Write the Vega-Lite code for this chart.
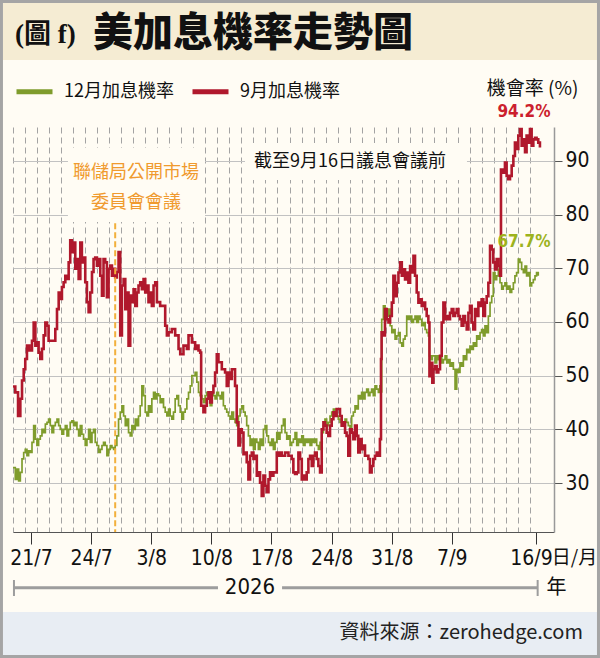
{
  "$schema": "https://vega.github.io/schema/vega-lite/v6.json",
  "width": 541,
  "height": 405,
  "autosize": {"type": "none"},
  "padding": {"left": 13, "top": 127, "right": 46, "bottom": 126},
  "background": "#fffcf4",
  "config": {"view": {"stroke": null}},
  "datasets": {
    "dec": [
      {"x":-1.5,"p":32.9},{"x":-1.31,"p":30.7},{"x":-1.17,"p":32.6},{"x":-1.03,"p":30.4},{"x":-0.89,"p":32.0},{"x":-0.75,"p":34.5},{"x":-0.61,"p":35.7},{"x":-0.48,"p":36.3},{"x":-0.34,"p":35.1},{"x":-0.2,"p":36.0},{"x":-0.06,"p":35.7},{"x":0.08,"p":37.6},{"x":0.22,"p":40.7},{"x":0.36,"p":38.2},{"x":0.49,"p":37.0},{"x":0.63,"p":38.2},{"x":0.77,"p":38.8},{"x":0.91,"p":40.0},{"x":1.05,"p":39.4},{"x":1.19,"p":41.0},{"x":1.33,"p":41.3},{"x":1.46,"p":41.9},{"x":1.6,"p":40.7},{"x":1.74,"p":39.4},{"x":1.88,"p":40.7},{"x":2.02,"p":41.3},{"x":2.16,"p":41.9},{"x":2.3,"p":40.7},{"x":2.43,"p":40.0},{"x":2.57,"p":39.1},{"x":2.71,"p":40.0},{"x":2.85,"p":40.7},{"x":2.99,"p":38.8},{"x":3.13,"p":40.0},{"x":3.26,"p":41.3},{"x":3.4,"p":41.6},{"x":3.54,"p":40.7},{"x":3.68,"p":41.3},{"x":3.82,"p":40.0},{"x":3.96,"p":38.8},{"x":4.1,"p":40.7},{"x":4.23,"p":39.1},{"x":4.37,"p":38.2},{"x":4.51,"p":37.0},{"x":4.65,"p":38.2},{"x":4.79,"p":40.0},{"x":4.93,"p":37.6},{"x":5.07,"p":39.4},{"x":5.2,"p":40.0},{"x":5.34,"p":37.6},{"x":5.48,"p":37.0},{"x":5.62,"p":35.7},{"x":5.76,"p":36.3},{"x":5.9,"p":37.0},{"x":6.03,"p":37.6},{"x":6.17,"p":37.0},{"x":6.31,"p":35.1},{"x":6.45,"p":36.3},{"x":6.59,"p":37.0},{"x":6.73,"p":36.6},{"x":6.87,"p":36.3},{"x":7.0,"p":37.0},{"x":7.14,"p":38.8},{"x":7.28,"p":41.9},{"x":7.42,"p":43.2},{"x":7.56,"p":44.4},{"x":7.7,"p":42.5},{"x":7.84,"p":40.7},{"x":7.97,"p":41.9},{"x":8.11,"p":39.4},{"x":8.25,"p":38.8},{"x":8.39,"p":40.7},{"x":8.53,"p":40.0},{"x":8.67,"p":41.9},{"x":8.8,"p":40.7},{"x":8.94,"p":42.5},{"x":9.08,"p":44.4},{"x":9.22,"p":48.1},{"x":9.36,"p":46.3},{"x":9.5,"p":43.2},{"x":9.64,"p":42.5},{"x":9.77,"p":44.4},{"x":9.91,"p":43.2},{"x":10.05,"p":45.7},{"x":10.19,"p":46.9},{"x":10.33,"p":45.7},{"x":10.47,"p":46.6},{"x":10.61,"p":46.3},{"x":10.74,"p":45.0},{"x":10.88,"p":45.7},{"x":11.02,"p":44.1},{"x":11.16,"p":43.2},{"x":11.3,"p":42.5},{"x":11.44,"p":43.8},{"x":11.57,"p":42.5},{"x":11.71,"p":41.9},{"x":11.85,"p":43.2},{"x":11.99,"p":45.7},{"x":12.13,"p":46.3},{"x":12.27,"p":44.4},{"x":12.41,"p":43.2},{"x":12.54,"p":41.9},{"x":12.68,"p":43.2},{"x":12.82,"p":43.8},{"x":12.96,"p":45.7},{"x":13.1,"p":46.9},{"x":13.24,"p":48.1},{"x":13.38,"p":50.0},{"x":13.65,"p":50.6},{"x":13.79,"p":48.8},{"x":13.93,"p":46.9},{"x":14.07,"p":46.3},{"x":14.21,"p":45.7},{"x":14.34,"p":45.0},{"x":14.48,"p":46.3},{"x":14.62,"p":46.9},{"x":14.76,"p":45.7},{"x":14.9,"p":44.4},{"x":15.04,"p":46.9},{"x":15.17,"p":46.3},{"x":15.31,"p":45.7},{"x":15.45,"p":46.9},{"x":15.59,"p":46.3},{"x":15.73,"p":45.7},{"x":15.87,"p":46.9},{"x":16.0,"p":44.4},{"x":16.14,"p":43.8},{"x":16.28,"p":43.2},{"x":16.42,"p":42.5},{"x":16.56,"p":41.9},{"x":16.7,"p":43.2},{"x":16.84,"p":41.9},{"x":16.97,"p":41.3},{"x":17.11,"p":40.7},{"x":17.25,"p":42.5},{"x":17.39,"p":43.8},{"x":17.53,"p":44.4},{"x":17.67,"p":43.2},{"x":17.81,"p":42.5},{"x":17.94,"p":40.7},{"x":18.08,"p":38.8},{"x":18.22,"p":37.0},{"x":18.36,"p":38.2},{"x":18.5,"p":36.3},{"x":18.64,"p":38.2},{"x":18.78,"p":37.6},{"x":18.91,"p":36.3},{"x":19.05,"p":38.2},{"x":19.19,"p":37.0},{"x":19.33,"p":40.0},{"x":19.47,"p":40.7},{"x":19.61,"p":38.8},{"x":19.75,"p":37.6},{"x":19.88,"p":37.0},{"x":20.02,"p":38.2},{"x":20.16,"p":36.3},{"x":20.3,"p":37.6},{"x":20.44,"p":39.4},{"x":20.58,"p":38.2},{"x":20.71,"p":39.4},{"x":20.85,"p":40.7},{"x":20.99,"p":41.9},{"x":21.13,"p":39.4},{"x":21.27,"p":38.2},{"x":21.41,"p":38.8},{"x":21.55,"p":37.0},{"x":21.68,"p":37.6},{"x":21.82,"p":38.2},{"x":21.96,"p":39.4},{"x":22.1,"p":37.0},{"x":22.24,"p":38.2},{"x":22.38,"p":37.6},{"x":22.52,"p":38.8},{"x":22.65,"p":37.0},{"x":22.79,"p":38.2},{"x":22.93,"p":37.6},{"x":23.07,"p":38.2},{"x":23.21,"p":37.0},{"x":23.35,"p":38.2},{"x":23.48,"p":37.6},{"x":23.62,"p":38.2},{"x":23.76,"p":37.0},{"x":23.9,"p":36.3},{"x":24.04,"p":37.6},{"x":24.18,"p":39.4},{"x":24.32,"p":40.7},{"x":24.45,"p":41.9},{"x":24.59,"p":40.7},{"x":24.73,"p":41.3},{"x":24.87,"p":42.5},{"x":25.01,"p":43.2},{"x":25.15,"p":43.8},{"x":25.29,"p":43.2},{"x":25.42,"p":42.5},{"x":25.56,"p":41.9},{"x":25.7,"p":41.3},{"x":25.84,"p":40.7},{"x":25.98,"p":41.3},{"x":26.12,"p":41.9},{"x":26.25,"p":41.3},{"x":26.39,"p":40.7},{"x":26.53,"p":40.0},{"x":26.67,"p":42.5},{"x":26.81,"p":43.2},{"x":26.95,"p":44.4},{"x":27.09,"p":43.8},{"x":27.22,"p":46.3},{"x":27.36,"p":45.7},{"x":27.5,"p":46.9},{"x":27.64,"p":45.7},{"x":27.78,"p":46.9},{"x":27.92,"p":47.5},{"x":28.06,"p":46.3},{"x":28.19,"p":46.9},{"x":28.33,"p":47.5},{"x":28.47,"p":46.3},{"x":28.61,"p":48.1},{"x":28.75,"p":47.5},{"x":28.89,"p":46.9},{"x":29.02,"p":48.1},{"x":29.12,"p":47.0},{"x":29.17,"p":60.5},{"x":29.31,"p":63.0},{"x":29.45,"p":61.7},{"x":29.59,"p":61.1},{"x":29.73,"p":62.4},{"x":29.87,"p":59.3},{"x":30.01,"p":58.0},{"x":30.14,"p":58.6},{"x":30.28,"p":56.8},{"x":30.42,"p":57.4},{"x":30.56,"p":58.0},{"x":30.7,"p":56.1},{"x":30.84,"p":55.5},{"x":30.97,"p":56.8},{"x":31.11,"p":57.4},{"x":31.25,"p":61.1},{"x":31.39,"p":60.5},{"x":31.53,"p":61.1},{"x":31.67,"p":59.9},{"x":31.81,"p":60.5},{"x":31.94,"p":61.1},{"x":32.08,"p":59.9},{"x":32.22,"p":61.1},{"x":32.36,"p":60.5},{"x":32.5,"p":59.3},{"x":32.64,"p":59.9},{"x":32.78,"p":58.6},{"x":32.91,"p":58.0},{"x":33.05,"p":57.4},{"x":33.14,"p":53.7},{"x":33.27,"p":53.0},{"x":33.38,"p":53.7},{"x":33.47,"p":53.7},{"x":33.61,"p":52.4},{"x":33.74,"p":53.7},{"x":33.88,"p":53.0},{"x":34.02,"p":53.7},{"x":34.16,"p":52.4},{"x":34.3,"p":53.0},{"x":34.44,"p":53.7},{"x":34.58,"p":52.4},{"x":34.71,"p":53.0},{"x":34.85,"p":51.8},{"x":34.99,"p":52.4},{"x":35.13,"p":51.2},{"x":35.27,"p":47.5},{"x":35.41,"p":51.2},{"x":35.55,"p":50.6},{"x":35.68,"p":52.4},{"x":35.82,"p":51.8},{"x":35.96,"p":53.7},{"x":36.1,"p":53.0},{"x":36.24,"p":54.9},{"x":36.38,"p":54.3},{"x":36.51,"p":55.5},{"x":36.65,"p":54.9},{"x":36.79,"p":56.1},{"x":36.93,"p":55.5},{"x":37.07,"p":57.4},{"x":37.21,"p":56.8},{"x":37.35,"p":58.0},{"x":37.48,"p":58.6},{"x":37.62,"p":57.4},{"x":37.76,"p":59.3},{"x":37.9,"p":58.0},{"x":38.04,"p":61.1},{"x":38.18,"p":63.6},{"x":38.32,"p":64.8},{"x":38.45,"p":69.2},{"x":38.59,"p":67.9},{"x":38.73,"p":68.6},{"x":38.87,"p":69.8},{"x":39.01,"p":67.3},{"x":39.15,"p":66.1},{"x":39.28,"p":66.7},{"x":39.42,"p":67.3},{"x":39.56,"p":66.1},{"x":39.7,"p":66.7},{"x":39.84,"p":65.5},{"x":39.98,"p":66.1},{"x":40.12,"p":67.3},{"x":40.25,"p":68.6},{"x":40.39,"p":69.2},{"x":40.53,"p":71.7},{"x":40.67,"p":71.1},{"x":40.81,"p":69.8},{"x":40.95,"p":69.2},{"x":41.09,"p":70.4},{"x":41.22,"p":68.6},{"x":41.36,"p":69.2},{"x":41.5,"p":66.7},{"x":41.64,"p":67.3},{"x":41.78,"p":67.9},{"x":41.92,"p":68.6},{"x":42.05,"p":69.2},{"x":42.19,"p":68.6}
    ],
    "sep": [
      {"x":-1.5,"p":48.0},{"x":-1.31,"p":46.9},{"x":-1.08,"p":42.5},{"x":-0.89,"p":45.7},{"x":-0.75,"p":49.1},{"x":-0.61,"p":51.2},{"x":-0.48,"p":53.1},{"x":-0.34,"p":55.6},{"x":-0.14,"p":54.7},{"x":0.08,"p":56.5},{"x":0.22,"p":59.9},{"x":0.36,"p":55.6},{"x":0.49,"p":56.2},{"x":0.63,"p":54.3},{"x":0.77,"p":53.1},{"x":0.91,"p":55.0},{"x":1.05,"p":57.5},{"x":1.19,"p":59.9},{"x":1.33,"p":59.3},{"x":1.46,"p":56.5},{"x":1.74,"p":56.5},{"x":2.02,"p":58.7},{"x":2.16,"p":62.4},{"x":2.3,"p":65.5},{"x":2.43,"p":64.3},{"x":2.57,"p":66.5},{"x":2.71,"p":67.4},{"x":2.85,"p":68.6},{"x":2.99,"p":68.0},{"x":3.13,"p":71.1},{"x":3.26,"p":75.2},{"x":3.4,"p":73.0},{"x":3.54,"p":74.8},{"x":3.68,"p":69.9},{"x":3.82,"p":71.7},{"x":3.96,"p":68.0},{"x":4.1,"p":74.8},{"x":4.23,"p":71.1},{"x":4.37,"p":72.0},{"x":4.51,"p":67.4},{"x":4.65,"p":63.7},{"x":4.79,"p":61.8},{"x":4.93,"p":65.5},{"x":5.07,"p":69.3},{"x":5.2,"p":71.7},{"x":5.34,"p":72.0},{"x":5.48,"p":70.5},{"x":5.62,"p":71.7},{"x":5.76,"p":68.6},{"x":5.9,"p":64.9},{"x":6.03,"p":71.7},{"x":6.17,"p":71.1},{"x":6.31,"p":64.6},{"x":6.45,"p":69.9},{"x":6.59,"p":70.5},{"x":6.73,"p":68.6},{"x":6.87,"p":69.9},{"x":7.0,"p":68.3},{"x":7.14,"p":69.3},{"x":7.28,"p":73.0},{"x":7.42,"p":57.5},{"x":7.56,"p":66.8},{"x":7.7,"p":68.0},{"x":7.84,"p":62.4},{"x":7.97,"p":65.5},{"x":8.11,"p":55.6},{"x":8.25,"p":64.9},{"x":8.39,"p":63.7},{"x":8.53,"p":66.1},{"x":8.67,"p":63.0},{"x":8.8,"p":65.5},{"x":8.94,"p":66.8},{"x":9.08,"p":67.4},{"x":9.22,"p":66.1},{"x":9.36,"p":68.0},{"x":9.5,"p":65.5},{"x":9.64,"p":66.8},{"x":9.77,"p":63.7},{"x":9.91,"p":65.5},{"x":10.05,"p":63.0},{"x":10.19,"p":66.8},{"x":10.33,"p":67.4},{"x":10.47,"p":63.7},{"x":10.74,"p":63.0},{"x":11.02,"p":63.0},{"x":11.16,"p":59.3},{"x":11.3,"p":57.5},{"x":11.44,"p":58.1},{"x":11.71,"p":58.7},{"x":11.99,"p":57.5},{"x":12.27,"p":55.0},{"x":12.41,"p":54.0},{"x":12.68,"p":55.6},{"x":12.96,"p":55.0},{"x":13.1,"p":57.5},{"x":13.38,"p":56.2},{"x":13.65,"p":55.0},{"x":13.79,"p":55.6},{"x":13.93,"p":54.7},{"x":14.07,"p":54.3},{"x":14.15,"p":44.4},{"x":14.34,"p":43.2},{"x":14.48,"p":44.4},{"x":14.62,"p":45.7},{"x":14.76,"p":46.9},{"x":14.9,"p":45.0},{"x":15.04,"p":46.9},{"x":15.17,"p":48.1},{"x":15.31,"p":50.6},{"x":15.45,"p":54.0},{"x":15.59,"p":52.5},{"x":15.87,"p":51.2},{"x":16.14,"p":50.6},{"x":16.28,"p":48.1},{"x":16.42,"p":50.6},{"x":16.56,"p":49.4},{"x":16.7,"p":51.2},{"x":16.84,"p":51.2},{"x":16.97,"p":48.1},{"x":17.11,"p":41.3},{"x":17.25,"p":37.0},{"x":17.39,"p":40.0},{"x":17.53,"p":39.4},{"x":17.67,"p":35.4},{"x":17.81,"p":35.7},{"x":17.94,"p":33.9},{"x":18.08,"p":30.7},{"x":18.22,"p":35.1},{"x":18.36,"p":35.7},{"x":18.5,"p":34.5},{"x":18.64,"p":35.1},{"x":18.78,"p":31.4},{"x":18.91,"p":32.0},{"x":19.05,"p":30.1},{"x":19.19,"p":27.6},{"x":19.33,"p":31.4},{"x":19.47,"p":29.5},{"x":19.61,"p":28.3},{"x":19.75,"p":30.7},{"x":19.88,"p":32.0},{"x":20.02,"p":31.4},{"x":20.16,"p":32.0},{"x":20.3,"p":32.0},{"x":20.44,"p":35.7},{"x":20.58,"p":35.1},{"x":20.71,"p":35.7},{"x":20.85,"p":35.1},{"x":21.13,"p":35.7},{"x":21.41,"p":35.1},{"x":21.68,"p":34.5},{"x":21.82,"p":32.0},{"x":21.96,"p":31.7},{"x":22.1,"p":32.0},{"x":22.24,"p":35.7},{"x":22.38,"p":34.5},{"x":22.52,"p":30.7},{"x":22.65,"p":31.4},{"x":22.79,"p":30.7},{"x":22.93,"p":32.0},{"x":23.07,"p":34.5},{"x":23.21,"p":35.1},{"x":23.35,"p":33.2},{"x":23.48,"p":35.1},{"x":23.62,"p":35.7},{"x":23.76,"p":34.5},{"x":23.9,"p":33.2},{"x":24.04,"p":32.0},{"x":24.18,"p":40.0},{"x":24.32,"p":41.3},{"x":24.45,"p":40.7},{"x":24.59,"p":39.4},{"x":24.73,"p":38.8},{"x":24.87,"p":40.7},{"x":25.01,"p":41.9},{"x":25.15,"p":43.2},{"x":25.29,"p":42.5},{"x":25.42,"p":43.8},{"x":25.56,"p":43.8},{"x":25.7,"p":42.5},{"x":25.84,"p":40.7},{"x":25.98,"p":41.3},{"x":26.12,"p":39.4},{"x":26.25,"p":38.8},{"x":26.39,"p":35.1},{"x":26.53,"p":40.0},{"x":26.67,"p":39.4},{"x":26.81,"p":38.2},{"x":26.95,"p":40.7},{"x":27.09,"p":38.8},{"x":27.22,"p":35.7},{"x":27.36,"p":38.2},{"x":27.5,"p":36.3},{"x":27.64,"p":37.0},{"x":27.78,"p":35.1},{"x":27.92,"p":35.1},{"x":28.06,"p":34.5},{"x":28.19,"p":32.0},{"x":28.33,"p":33.2},{"x":28.47,"p":34.5},{"x":28.61,"p":35.1},{"x":28.75,"p":35.7},{"x":28.89,"p":35.1},{"x":29.02,"p":38.2},{"x":29.11,"p":53.1},{"x":29.16,"p":58.1},{"x":29.3,"p":57.5},{"x":29.44,"p":62.4},{"x":29.59,"p":60.5},{"x":29.73,"p":59.9},{"x":29.87,"p":61.1},{"x":30.01,"p":63.6},{"x":30.14,"p":68.6},{"x":30.28,"p":64.8},{"x":30.42,"p":67.3},{"x":30.56,"p":69.2},{"x":30.7,"p":71.1},{"x":30.84,"p":68.6},{"x":30.97,"p":69.8},{"x":31.11,"p":67.9},{"x":31.25,"p":69.2},{"x":31.39,"p":67.3},{"x":31.53,"p":70.4},{"x":31.67,"p":69.2},{"x":31.81,"p":72.3},{"x":31.94,"p":68.6},{"x":32.08,"p":65.5},{"x":32.22,"p":63.6},{"x":32.36,"p":64.2},{"x":32.5,"p":63.0},{"x":32.64,"p":63.6},{"x":32.78,"p":62.4},{"x":32.91,"p":61.1},{"x":33.05,"p":59.9},{"x":33.14,"p":49.9},{"x":33.27,"p":52.4},{"x":33.38,"p":48.7},{"x":33.47,"p":51.2},{"x":33.61,"p":51.8},{"x":33.74,"p":50.6},{"x":33.88,"p":51.2},{"x":34.02,"p":53.7},{"x":34.16,"p":59.9},{"x":34.3,"p":63.6},{"x":34.44,"p":60.5},{"x":34.58,"p":61.1},{"x":34.71,"p":60.5},{"x":34.85,"p":61.7},{"x":34.99,"p":62.4},{"x":35.13,"p":61.1},{"x":35.27,"p":61.7},{"x":35.41,"p":62.4},{"x":35.55,"p":61.1},{"x":35.68,"p":60.5},{"x":35.82,"p":59.3},{"x":35.96,"p":61.1},{"x":36.1,"p":59.9},{"x":36.24,"p":58.6},{"x":36.38,"p":61.7},{"x":36.51,"p":63.0},{"x":36.65,"p":59.9},{"x":36.79,"p":58.6},{"x":36.93,"p":62.4},{"x":37.07,"p":61.1},{"x":37.21,"p":63.6},{"x":37.35,"p":63.0},{"x":37.48,"p":64.2},{"x":37.62,"p":61.1},{"x":37.76,"p":63.6},{"x":37.9,"p":64.8},{"x":38.04,"p":67.3},{"x":38.18,"p":74.2},{"x":38.32,"p":73.5},{"x":38.45,"p":71.1},{"x":38.59,"p":69.8},{"x":38.73,"p":71.7},{"x":38.87,"p":70.4},{"x":39.01,"p":68.6},{"x":39.09,"p":88.4},{"x":39.23,"p":87.8},{"x":39.42,"p":89.7},{"x":39.56,"p":87.2},{"x":39.7,"p":86.6},{"x":39.84,"p":87.2},{"x":39.98,"p":89.1},{"x":40.12,"p":90.9},{"x":40.25,"p":93.4},{"x":40.39,"p":92.2},{"x":40.53,"p":94.7},{"x":40.67,"p":95.9},{"x":40.81,"p":92.8},{"x":40.95,"p":94.0},{"x":41.09,"p":91.6},{"x":41.22,"p":94.7},{"x":41.36,"p":93.4},{"x":41.5,"p":95.9},{"x":41.64,"p":92.8},{"x":41.78,"p":94.0},{"x":41.92,"p":94.3},{"x":42.05,"p":94.0},{"x":42.19,"p":93.4},{"x":42.33,"p":92.5}
    ]
  },
  "layer": [
    {
      "data": {"name": "dec"},
      "mark": {"type": "line", "strokeWidth": 1.7, "interpolate": "step-after"},
      "encoding": {
        "x": {
          "field": "x",
          "type": "quantitative",
          "scale": {"domain": [-1.5, 43.5], "nice": false, "zero": false},
          "axis": {
            "orient": "bottom",
            "values": [-1.5, -0.5, 0, 0.5, 1.5, 2.5, 3.5, 4.5, 5, 5.5, 6.5, 7.5, 8.5, 9.5, 10, 10.5, 11.5, 12.5, 13.5, 14.5, 15, 15.5, 16.5, 17.5, 18.5, 19.5, 20, 20.5, 21.5, 22.5, 23.5, 24.5, 25, 25.5, 26.5, 27.5, 28.5, 29.5, 30, 30.5, 31.5, 32.5, 33.5, 34.5, 35, 35.5, 36.5, 37.5, 38.5, 39.5, 40.5, 41.5, 42],
            "tickCount": 200,
            "labelExpr": "datum.value == 0 ? '21/7' : datum.value == 5 ? '24/7' : datum.value == 10 ? '3/8' : datum.value == 15 ? '10/8' : datum.value == 20 ? '17/8' : datum.value == 25 ? '24/8' : datum.value == 30 ? '31/8' : datum.value == 35 ? '7/9' : datum.value == 42 ? '16/9' : ''",
            "labelFont": "Liberation Sans Narrow, Arial Narrow, DejaVu Sans Condensed, sans-serif",
            "labelFontSize": 21,
            "labelColor": "#111111",
            "labelPadding": 3,
            "labelOffset": {"condition": {"test": "datum.value == 42", "value": -5}, "value": 0},
            "labelOverlap": false,
            "labelFlush": false,
            "tickSize": 12,
            "tickColor": "#333333",
            "tickOpacity": {"condition": {"test": "datum.value % 1 == 0", "value": 1}, "value": 0},
            "grid": true,
            "gridColor": "#a3a3a3",
            "gridDash": [6, 4],
            "gridOpacity": {"condition": {"test": "datum.value % 1 != 0", "value": 1}, "value": 0},
            "domainColor": "#555555",
            "title": "日/月",
            "titleFont": "Noto Sans CJK TC",
            "titleFontSize": 19,
            "titleFontWeight": "normal",
            "titleColor": "#111111",
            "titleX": 561,
            "titleY": 25,
            "titleAlign": "center",
            "titleBaseline": "middle"
          }
        },
        "y": {
          "field": "p",
          "type": "quantitative",
          "scale": {"domain": [20.9, 96.3], "nice": false, "zero": false},
          "axis": {
            "orient": "right",
            "values": [30, 40, 50, 60, 70, 80, 90],
            "labelFont": "Liberation Sans Narrow, Arial Narrow, DejaVu Sans Condensed, sans-serif",
            "labelFontSize": 21,
            "labelColor": "#111111",
            "labelPadding": 3,
            "tickSize": 8,
            "tickColor": "#555555",
            "domainColor": "#999999",
            "domainWidth": 1.5,
            "grid": true,
            "gridColor": "#c2c2c2",
            "title": "機會率 (%)",
            "titleFont": "Noto Sans CJK TC",
            "titleFontSize": 19,
            "titleFontWeight": "normal",
            "titleColor": "#111111",
            "titleAngle": 0,
            "titleX": -22,
            "titleY": -39,
            "titleAlign": "center",
            "titleBaseline": "middle"
          }
        },
        "color": {
          "datum": "12月加息機率",
          "scale": {"domain": ["12月加息機率", "9月加息機率"], "range": ["#7f9c2c", "#b0182c"]},
          "legend": {
            "orient": "none",
            "legendX": 1,
            "legendY": -56,
            "direction": "horizontal",
            "title": null,
            "symbolType": "stroke",
            "symbolSize": 1296,
            "symbolStrokeWidth": 5,
            "labelFont": "Noto Sans CJK TC",
            "labelFontSize": 18,
            "labelColor": "#111111",
            "labelOffset": 9,
            "columnPadding": 8
          }
        }
      }
    },
    {
      "data": {"name": "sep"},
      "mark": {"type": "line", "strokeWidth": 2.6, "interpolate": "step-after"},
      "encoding": {
        "x": {"field": "x", "type": "quantitative"},
        "y": {"field": "p", "type": "quantitative"},
        "color": {"datum": "9月加息機率"}
      }
    },
    {
      "data": {"values": [{}]},
      "mark": {"type": "rect", "fill": "#f5ecd3"},
      "encoding": {
        "x": {"datum": -2.33, "type": "quantitative"},
        "x2": {"datum": 47.08},
        "y": {"datum": 119.39, "type": "quantitative"},
        "y2": {"datum": 108.77}
      }
    },
    {
      "data": {"values": [{}]},
      "mark": {"type": "rect", "fill": "#e8edf3"},
      "encoding": {
        "x": {"datum": -2.33, "type": "quantitative"},
        "x2": {"datum": 47.08},
        "y": {"datum": 6.0, "type": "quantitative"},
        "y2": {"datum": -2.01}
      }
    },
    {
      "data": {"values": [{}]},
      "mark": {"type": "rect", "fill": "#fffcf4"},
      "encoding": {
        "x": {"datum": 3.07, "type": "quantitative"},
        "x2": {"datum": 14.47},
        "y": {"datum": 92.39, "type": "quantitative"},
        "y2": {"datum": 78.61}
      }
    },
    {
      "data": {"values": [{}]},
      "mark": {"type": "rect", "fill": "#fffcf4"},
      "encoding": {
        "x": {"datum": 17.8, "type": "quantitative"},
        "x2": {"datum": 36.26},
        "y": {"datum": 93.32, "type": "quantitative"},
        "y2": {"datum": 86.43}
      }
    },
    {
      "data": {"values": [{}]},
      "mark": {"type": "rule", "color": "#f2b03c", "strokeWidth": 2, "strokeDash": [6, 3]},
      "encoding": {
        "x": {"datum": 7, "type": "quantitative"},
        "y": {"datum": 78.4, "type": "quantitative"},
        "y2": {"datum": 20.9}
      }
    },
    {
      "data": {"values": [{}]},
      "mark": {"type": "text", "text": "聯儲局公開市場", "font": "Noto Sans CJK TC", "fontSize": 18, "color": "#f09a2e", "align": "center", "baseline": "middle"},
      "encoding": {"x": {"datum": 8.73, "type": "quantitative"}, "y": {"datum": 87.74, "type": "quantitative"}}
    },
    {
      "data": {"values": [{}]},
      "mark": {"type": "text", "text": "委員會會議", "font": "Noto Sans CJK TC", "fontSize": 18, "color": "#f09a2e", "align": "center", "baseline": "middle"},
      "encoding": {"x": {"datum": 8.73, "type": "quantitative"}, "y": {"datum": 82.15, "type": "quantitative"}}
    },
    {
      "data": {"values": [{}]},
      "mark": {"type": "text", "text": "截至9月16日議息會議前", "font": "Noto Sans CJK TC", "fontSize": 18, "color": "#111111", "align": "center", "baseline": "middle"},
      "encoding": {"x": {"datum": 26.53, "type": "quantitative"}, "y": {"datum": 89.78, "type": "quantitative"}}
    },
    {
      "data": {"values": [{}]},
      "mark": {"type": "text", "text": "94.2%", "font": "Liberation Sans Narrow, Arial Narrow, DejaVu Sans Condensed, sans-serif", "fontSize": 17, "fontWeight": "bold", "color": "#cc1f2e", "align": "center", "baseline": "middle"},
      "encoding": {"x": {"datum": 41.0, "type": "quantitative"}, "y": {"datum": 99.09, "type": "quantitative"}}
    },
    {
      "data": {"values": [{}]},
      "mark": {"type": "text", "text": "67.7%", "font": "Liberation Sans Narrow, Arial Narrow, DejaVu Sans Condensed, sans-serif", "fontSize": 17, "fontWeight": "bold", "color": "#9db31e", "align": "center", "baseline": "middle"},
      "encoding": {"x": {"datum": 41.0, "type": "quantitative"}, "y": {"datum": 74.98, "type": "quantitative"}}
    },
    {
      "data": {"values": [{}]},
      "mark": {"type": "text", "text": "(圖 f)", "font": "Liberation Serif, Noto Sans CJK TC", "fontSize": 27, "fontWeight": "bold", "color": "#111111", "align": "left", "baseline": "middle"},
      "encoding": {"x": {"datum": -1.33, "type": "quantitative"}, "y": {"datum": 113.43, "type": "quantitative"}}
    },
    {
      "data": {"values": [{}]},
      "mark": {"type": "text", "text": "美加息機率走勢圖", "font": "Noto Sans CJK TC", "fontSize": 40, "fontWeight": 900, "color": "#111111", "align": "left", "baseline": "middle"},
      "encoding": {"x": {"datum": 5.15, "type": "quantitative"}, "y": {"datum": 113.6, "type": "quantitative"}}
    },
    {
      "data": {"values": [{}]},
      "mark": {"type": "rule", "color": "#9d9d9d", "strokeWidth": 3},
      "encoding": {"x": {"datum": -1.42, "type": "quantitative"}, "x2": {"datum": 15.55}, "y": {"datum": 10.52, "type": "quantitative"}}
    },
    {
      "data": {"values": [{}]},
      "mark": {"type": "rule", "color": "#9d9d9d", "strokeWidth": 3},
      "encoding": {"x": {"datum": 20.88, "type": "quantitative"}, "x2": {"datum": 42.14}, "y": {"datum": 10.52, "type": "quantitative"}}
    },
    {
      "data": {"values": [{}]},
      "mark": {"type": "rule", "color": "#9d9d9d", "strokeWidth": 2},
      "encoding": {"x": {"datum": -1.42, "type": "quantitative"}, "y": {"datum": 11.96, "type": "quantitative"}, "y2": {"datum": 8.98}}
    },
    {
      "data": {"values": [{}]},
      "mark": {"type": "rule", "color": "#9d9d9d", "strokeWidth": 2},
      "encoding": {"x": {"datum": 42.14, "type": "quantitative"}, "y": {"datum": 11.96, "type": "quantitative"}, "y2": {"datum": 8.98}}
    },
    {
      "data": {"values": [{}]},
      "mark": {"type": "text", "text": "2026", "font": "Liberation Sans Narrow, Arial Narrow, DejaVu Sans Condensed, sans-serif", "fontSize": 22, "color": "#111111", "align": "center", "baseline": "middle"},
      "encoding": {"x": {"datum": 18.21, "type": "quantitative"}, "y": {"datum": 10.65, "type": "quantitative"}}
    },
    {
      "data": {"values": [{}]},
      "mark": {"type": "text", "text": "年", "font": "Noto Sans CJK TC", "fontSize": 20, "color": "#111111", "align": "center", "baseline": "middle"},
      "encoding": {"x": {"datum": 43.71, "type": "quantitative"}, "y": {"datum": 10.47, "type": "quantitative"}}
    },
    {
      "data": {"values": [{}]},
      "mark": {"type": "text", "text": "資料來源：zerohedge.com", "font": "Noto Sans CJK TC", "fontSize": 20, "color": "#222222", "align": "right", "baseline": "middle"},
      "encoding": {"x": {"datum": 45.91, "type": "quantitative"}, "y": {"datum": 2.09, "type": "quantitative"}}
    },
    {
      "data": {"values": [{}]},
      "mark": {"type": "rect", "fill": null, "stroke": "#a5a5a5", "strokeWidth": 3},
      "encoding": {
        "x": {"datum": -2.46, "type": "quantitative"},
        "x2": {"datum": 47.2},
        "y": {"datum": 119.67, "type": "quantitative"},
        "y2": {"datum": -2.29}
      }
    }
  ]
}
